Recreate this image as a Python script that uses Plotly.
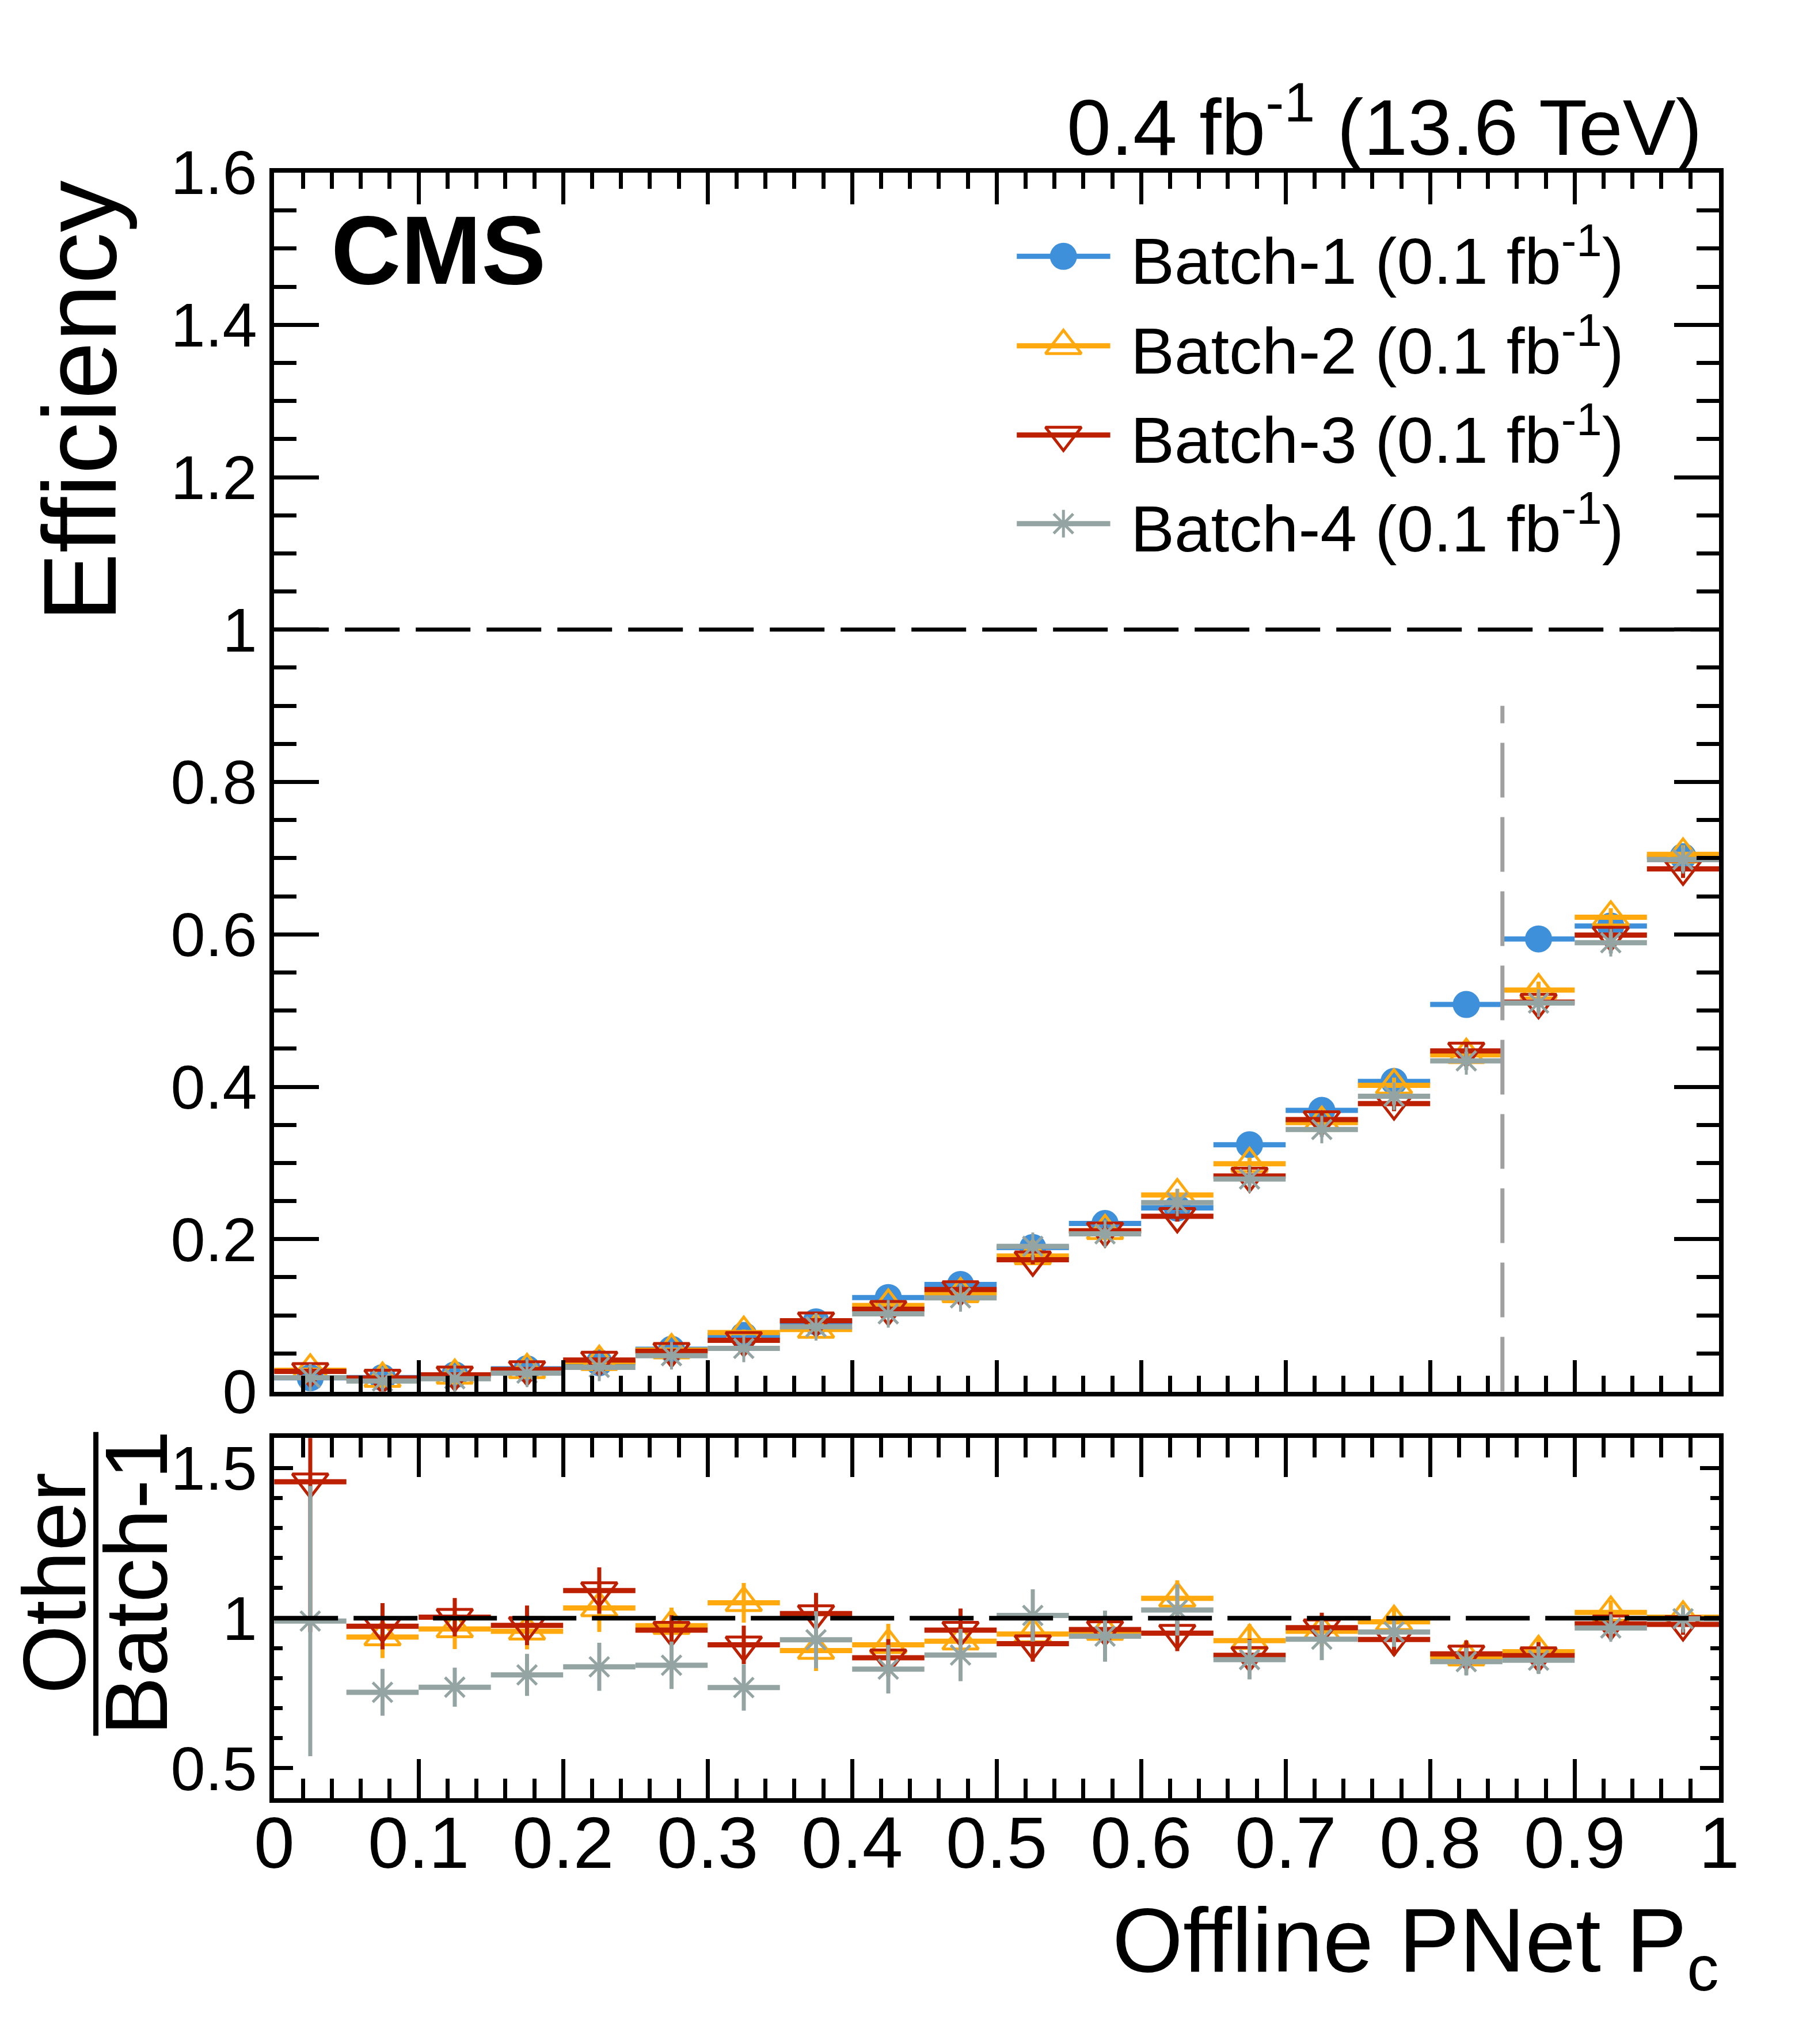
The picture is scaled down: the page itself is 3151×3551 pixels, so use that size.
import numpy as np
import plotly.graph_objects as go

# ---- data ----
bin_edges = [0.0, 0.05, 0.1, 0.15, 0.2, 0.25, 0.3, 0.35, 0.4, 0.45, 0.5,
             0.55, 0.6, 0.65, 0.7, 0.75, 0.8, 0.85, 0.9, 0.95, 1.0]

batch_names = ["Batch-1", "Batch-2", "Batch-3", "Batch-4"]
batch_lumi = ["0.1", "0.1", "0.1", "0.1"]

eff_b1 = [0.018, 0.0183, 0.022, 0.0298, 0.0379, 0.0555, 0.0737, 0.0915, 0.1234, 0.1406,
          0.189, 0.2206, 0.241, 0.324, 0.369, 0.407, 0.508, 0.594, 0.611, 0.702]
eff_b2 = [0.028, 0.0171, 0.0212, 0.0285, 0.0392, 0.0545, 0.0774, 0.0815, 0.113, 0.128,
          0.178, 0.211, 0.258, 0.299, 0.353, 0.402, 0.442, 0.527, 0.6225, 0.705]
eff_b3 = [0.0265, 0.0178, 0.022, 0.029, 0.0414, 0.053, 0.0672, 0.093, 0.108, 0.134,
          0.173, 0.211, 0.23, 0.283, 0.357, 0.378, 0.447, 0.511, 0.599, 0.686]
eff_b4 = [0.0182, 0.0138, 0.0169, 0.0242, 0.0318, 0.047, 0.0567, 0.085, 0.102, 0.123,
          0.1906, 0.207, 0.248, 0.279, 0.344, 0.3875, 0.434, 0.51, 0.589, 0.698]

err_b1 = [0.004, 0.002, 0.002, 0.002, 0.002, 0.003, 0.003, 0.004, 0.004, 0.005,
          0.006, 0.006, 0.007, 0.008, 0.008, 0.009, 0.010, 0.010, 0.011, 0.011]
err_b2 = [0.005, 0.002, 0.002, 0.002, 0.003, 0.003, 0.004, 0.004, 0.005, 0.005,
          0.006, 0.007, 0.008, 0.008, 0.009, 0.010, 0.010, 0.011, 0.012, 0.012]
err_b3 = [0.005, 0.002, 0.002, 0.002, 0.003, 0.003, 0.004, 0.004, 0.005, 0.005,
          0.006, 0.007, 0.007, 0.008, 0.009, 0.010, 0.010, 0.011, 0.012, 0.012]
err_b4 = [0.004, 0.002, 0.002, 0.002, 0.003, 0.003, 0.003, 0.004, 0.005, 0.005,
          0.007, 0.007, 0.008, 0.009, 0.010, 0.011, 0.012, 0.013, 0.014, 0.015]

# ratio to Batch-1
ratio_b2 = [1.66, 0.937, 0.964, 0.956, 1.034, 0.975, 1.051, 0.892, 0.911, 0.923,
            0.947, 0.955, 1.066, 0.925, 0.956, 0.988, 0.87, 0.888, 1.019, 1.003]
ratio_b3 = [1.454, 0.973, 1.003, 0.976, 1.092, 0.96, 0.911, 1.015, 0.868, 0.96,
            0.915, 0.962, 0.95, 0.876, 0.968, 0.929, 0.881, 0.875, 0.981, 0.979]
ratio_b4 = [0.99, 0.753, 0.77, 0.811, 0.838, 0.843, 0.769, 0.928, 0.83, 0.877,
            1.009, 0.94, 1.027, 0.862, 0.93, 0.954, 0.855, 0.86, 0.967, 0.998]

rerr_b2 = [0.0, 0.07, 0.067, 0.06, 0.08, 0.06, 0.066, 0.068, 0.07, 0.07,
           0.06, 0.06, 0.06, 0.055, 0.05, 0.05, 0.045, 0.045, 0.04, 0.035]
rerr_b3 = [0.5, 0.077, 0.064, 0.066, 0.077, 0.05, 0.064, 0.069, 0.062, 0.072,
           0.06, 0.06, 0.06, 0.055, 0.05, 0.053, 0.045, 0.045, 0.04, 0.035]
rerr_b4 = [0.45, 0.078, 0.065, 0.07, 0.08, 0.079, 0.077, 0.095, 0.081, 0.087,
           0.087, 0.085, 0.085, 0.066, 0.07, 0.05, 0.045, 0.045, 0.04, 0.035]

x_ticks = [0, 0.1, 0.2, 0.3, 0.4, 0.5, 0.6, 0.7, 0.8, 0.9, 1]
x_ticktext = ["0", "0.1", "0.2", "0.3", "0.4", "0.5", "0.6", "0.7", "0.8", "0.9", "1"]
eff_ticks = [0, 0.2, 0.4, 0.6, 0.8, 1, 1.2, 1.4, 1.6]
eff_ticktext = ["0", "0.2", "0.4", "0.6", "0.8", "1", "1.2", "1.4", "1.6"]
ratio_ticks = [0.5, 1, 1.5]
ratio_ticktext = ["0.5", "1", "1.5"]

# ---- style ----
W, H = 3151, 3551
FONT = "Liberation Sans, Arial, Helvetica, sans-serif"
COLORS = ["#3f90da", "#ffa90e", "#bd1f01", "#94a4a2"]
SYMBOLS = ["circle", "triangle-up-open", "triangle-down-open", "asterisk-open"]
SIZES = [42, 54, 54, 40]

edges = np.array(bin_edges)
centers = 0.5 * (edges[:-1] + edges[1:])
half_w = 0.5 * (edges[1:] - edges[:-1])

X_DOM = [0.1406, 0.9553]
MAIN_DOM = [0.3150, 0.9325]
RATIO_DOM = [0.1090, 0.2915]

fig = go.Figure()


def add_points(y, err, i, xa, ya):
    fig.add_trace(go.Scatter(
        x=centers, y=y, mode="markers", xaxis=xa, yaxis=ya, showlegend=False,
        marker=dict(symbol=SYMBOLS[i], size=SIZES[i], color=COLORS[i],
                    line=dict(width=5, color=COLORS[i])),
        error_x=dict(type="data", array=half_w, width=0, thickness=9, color=COLORS[i]),
        error_y=dict(type="data", array=err, width=0, thickness=7, color=COLORS[i]),
        cliponaxis=True,
    ))


# 1. efficiency panel
for i, (y, e) in enumerate(zip([eff_b1, eff_b2, eff_b3, eff_b4],
                               [err_b1, err_b2, err_b3, err_b4])):
    add_points(y, e, i, "x", "y")

# 2. ratio panel
for i, (y, e) in enumerate(zip([ratio_b2, ratio_b3, ratio_b4],
                               [rerr_b2, rerr_b3, rerr_b4]), start=1):
    add_points(y, e, i, "x2", "y2")

# 3. hand-made legend on a full-page helper axis
leg_rows = [0.8900, 0.8447, 0.7995, 0.7546]
leg_x0, leg_x1, leg_xm = 0.5593, 0.6120, 0.5856
for i in range(4):
    fig.add_trace(go.Scatter(
        x=[leg_x0, leg_x1], y=[leg_rows[i], leg_rows[i]], mode="lines",
        line=dict(color=COLORS[i], width=9), xaxis="x3", yaxis="y3",
        showlegend=False, hoverinfo="skip"))
    fig.add_trace(go.Scatter(
        x=[leg_xm], y=[leg_rows[i]], mode="markers", xaxis="x3", yaxis="y3",
        marker=dict(symbol=SYMBOLS[i], size=SIZES[i], color=COLORS[i],
                    line=dict(width=5, color=COLORS[i])),
        showlegend=False, hoverinfo="skip"))
    fig.add_annotation(
        xref="paper", yref="paper", x=0.623, y=leg_rows[i], xanchor="left", yanchor="middle",
        text=f"{batch_names[i]} ({batch_lumi[i]} fb<sup>-1</sup>)", showarrow=False,
        font=dict(size=114, color="black", family=FONT))

# 4. reference lines
fig.add_shape(type="line", xref="x", yref="y", x0=0, x1=1, y0=1, y1=1,
              line=dict(color="black", width=7, dash="95px,28px"), layer="above")
fig.add_shape(type="line", xref="x", yref="y", x0=0.85, x1=0.85, y0=0, y1=0.9,
              line=dict(color="#a0a0a0", width=7, dash="95px,34px"), layer="above")
fig.add_shape(type="line", xref="x2", yref="y2", x0=0, x1=1, y0=1, y1=1,
              line=dict(color="black", width=8, dash="111px,27px"), layer="above")
# fraction bar of the ratio title
fig.add_shape(type="line", xref="paper", yref="paper", x0=0.0401, x1=0.0401,
              y0=0.1407, y1=0.2945, line=dict(color="black", width=9))

# 5. texts
fig.add_annotation(xref="paper", yref="paper", x=0.9466, y=0.9323, xanchor="right", yanchor="bottom",
                   text="0.4 fb<sup>-1</sup> (13.6 TeV)", showarrow=False,
                   font=dict(size=138, color="black", family=FONT))
fig.add_annotation(xref="paper", yref="paper", x=0.1721, y=0.8650, xanchor="left", yanchor="bottom",
                   text="<b>CMS</b>", showarrow=False,
                   font=dict(size=168, color="black", family=FONT))
fig.add_annotation(xref="paper", yref="paper", x=0.0307, y=0.9290, xanchor="center", yanchor="top",
                   text="Efficiency", textangle=-90, showarrow=False,
                   font=dict(size=180, color="black", family=FONT))
fig.add_annotation(xref="paper", yref="paper", x=0.0168, y=0.2180, xanchor="center", yanchor="middle",
                   text="Other", textangle=-90, showarrow=False,
                   font=dict(size=154, color="black", family=FONT))
fig.add_annotation(xref="paper", yref="paper", x=0.0630, y=0.2180, xanchor="center", yanchor="middle",
                   text="Batch-1", textangle=-90, showarrow=False,
                   font=dict(size=154, color="black", family=FONT))
fig.add_annotation(xref="paper", yref="paper", x=0.9560, y=0.0045, xanchor="right", yanchor="bottom",
                   text="Offline PNet P<sub>c</sub>", showarrow=False,
                   font=dict(size=158, color="black", family=FONT))

# 6. axes
common = dict(showline=True, linecolor="black", linewidth=8, mirror="allticks",
              ticks="inside", tickcolor="black", tickwidth=7, showgrid=False,
              zeroline=False)

fig.update_layout(
    width=W, height=H,
    margin=dict(l=0, r=0, t=0, b=0),
    paper_bgcolor="white", plot_bgcolor="rgba(0,0,0,0)",
    font=dict(family=FONT, color="black"),
    showlegend=False,
    xaxis=dict(domain=X_DOM, anchor="y", range=[0, 1], tickvals=x_ticks, ticktext=x_ticktext,
               showticklabels=False, ticklen=55,
               minor=dict(dtick=0.02, ticklen=28, tickwidth=7, tickcolor="black", ticks="inside"),
               **common),
    yaxis=dict(domain=MAIN_DOM, anchor="x", range=[0, 1.6], tickvals=eff_ticks, ticktext=eff_ticktext,
               ticklen=78, tickfont=dict(size=108, family=FONT, color="black"),
               minor=dict(dtick=0.05, ticklen=39, tickwidth=7, tickcolor="black", ticks="inside"),
               **common),
    xaxis2=dict(domain=X_DOM, anchor="y2", range=[0, 1], tickvals=x_ticks, ticktext=x_ticktext,
                ticklen=68, tickfont=dict(size=127, family=FONT, color="black"),
                ticklabelstandoff=-40,
                minor=dict(dtick=0.02, ticklen=34, tickwidth=7, tickcolor="black", ticks="inside"),
                **common),
    yaxis2=dict(domain=RATIO_DOM, anchor="x2", range=[0.4, 1.6], tickvals=ratio_ticks,
                ticktext=ratio_ticktext, ticklen=33, tickfont=dict(size=108, family=FONT, color="black"),
                minor=dict(dtick=0.1, ticklen=15, tickwidth=7, tickcolor="black", ticks="inside"),
                **common),
    xaxis3=dict(domain=[0, 1], anchor="y3", range=[0, 1], visible=False, fixedrange=True),
    yaxis3=dict(domain=[0, 1], anchor="x3", range=[0, 1], visible=False, fixedrange=True),
)

fig.write_html("out.html")
